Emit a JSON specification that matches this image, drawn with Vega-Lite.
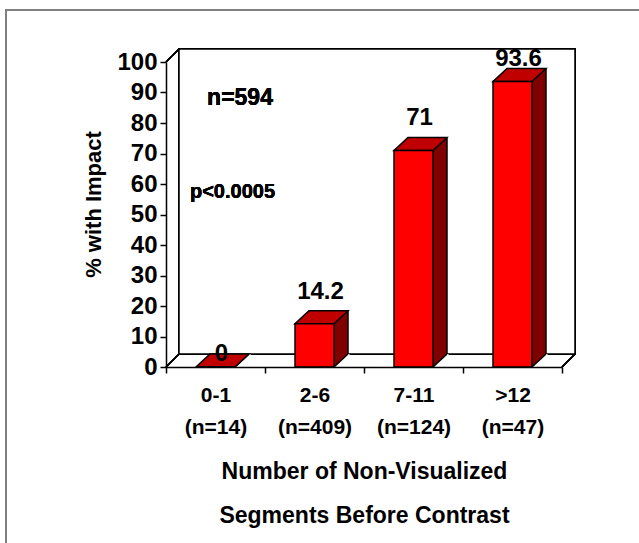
{
  "$schema": "https://vega.github.io/schema/vega-lite/v6.json",
  "width": 396,
  "height": 305,
  "autosize": {"type": "none"},
  "padding": {"left": 166, "top": 62, "right": 77, "bottom": 176},
  "background": "white",
  "config": {
    "view": {"stroke": null},
    "font": "Liberation Sans",
    "text": {"font": "Liberation Sans", "fontWeight": "bold", "color": "#000"}
  },
  "data": {
    "values": [
      {"group": "0-1 (n=14)", "pct": 0},
      {"group": "2-6 (n=409)", "pct": 14.2},
      {"group": "7-11 (n=124)", "pct": 71},
      {"group": ">12 (n=47)", "pct": 93.6}
    ]
  },
  "encoding": {
    "x": {
      "field": "group",
      "type": "nominal",
      "sort": null,
      "scale": {"paddingInner": 0, "paddingOuter": 0},
      "axis": {
        "zindex": 1,
        "tickBand": "extent",
        "labelAngle": 0,
        "labelExpr": "split(datum.label, ' ')",
        "labelLineHeight": 32,
        "labelFontSize": 21,
        "labelFontWeight": "bold",
        "labelColor": "#000",
        "labelPadding": 11,
        "labelOverlap": false,
        "tickSize": 6,
        "tickColor": "#000",
        "tickWidth": 1.5,
        "domainColor": "#000",
        "domainWidth": 1.5,
        "title": ["Number of Non-Visualized", "Segments Before Contrast"],
        "titleFontSize": 23,
        "titleFontWeight": "bold",
        "titleColor": "#000",
        "titleLineHeight": 44,
        "titlePadding": 23
      }
    },
    "y": {
      "field": "pct",
      "type": "quantitative",
      "scale": {"domain": [0, 100], "nice": false},
      "axis": {
        "zindex": 1,
        "tickCount": 10,
        "grid": false,
        "labelFontSize": 24,
        "labelFontWeight": "bold",
        "labelColor": "#000",
        "labelPadding": 3,
        "tickSize": 6,
        "tickColor": "#000",
        "tickWidth": 1.5,
        "domainColor": "#000",
        "domainWidth": 1.5,
        "title": "% with Impact",
        "titleFontSize": 22,
        "titleFontWeight": "bold",
        "titleColor": "#000",
        "titlePadding": 11,
        "titleY": 142
      }
    }
  },
  "layer": [
    {
      "mark": {"type": "rect", "fill": null, "stroke": "#808080", "strokeWidth": 1.5},
      "encoding": {
        "x": {"value": -160},
        "x2": {"value": 520},
        "y": {"value": -52},
        "y2": {"value": 560}
      }
    },
    {
      "mark": {"type": "rect", "fill": "white", "stroke": "#000", "strokeWidth": 1.5, "xOffset": 13, "x2Offset": 13, "yOffset": -13, "y2Offset": -13},
      "encoding": {
        "x": {"value": 0},
        "x2": {"value": 396},
        "y": {"datum": 100},
        "y2": {"datum": 0}
      }
    },
    {
      "mark": {"type": "rule", "stroke": "#000", "strokeWidth": 1.5, "x2Offset": 13, "y2Offset": -13},
      "encoding": {
        "x": {"value": 0},
        "x2": {"value": 0},
        "y": {"datum": 100},
        "y2": {"datum": 100}
      }
    },
    {
      "mark": {"type": "rule", "stroke": "#000", "strokeWidth": 1.5, "x2Offset": 13, "y2Offset": -13},
      "encoding": {
        "x": {"value": 0},
        "x2": {"value": 0},
        "y": {"datum": 0},
        "y2": {"datum": 0}
      }
    },
    {
      "mark": {"type": "rule", "stroke": "#000", "strokeWidth": 1.5, "x2Offset": 13, "y2Offset": -13},
      "encoding": {
        "x": {"value": 396},
        "x2": {"value": 396},
        "y": {"datum": 0},
        "y2": {"datum": 0}
      }
    },
    {
      "mark": {"type": "bar", "width": 14, "xOffset": 26.5, "yOffset": -13, "fill": "#800000", "stroke": null},
      "encoding": {
        "y2": {"datum": 0}
      }
    },
    {
      "mark": {"type": "point", "shape": "M 0.975 0 L 1.675 -0.65 L 1.75 -0.65 L 1.75 0.05 L 0.975 0.05 Z", "size": 1600, "filled": true, "fill": "white", "stroke": null, "opacity": 1},
      "encoding": {
        "y": {"datum": 0}
      }
    },
    {
      "mark": {"type": "point", "shape": "M 0.975 0 L 1.675 -0.65", "size": 1600, "filled": false, "fill": null, "stroke": "#000", "strokeWidth": 1.5, "opacity": 1},
      "encoding": {
        "y": {"datum": 0}
      }
    },
    {
      "mark": {"type": "rule", "stroke": "#000", "strokeWidth": 1.5, "xOffset": 33.5, "yOffset": -13, "y2Offset": -13},
      "encoding": {
        "y2": {"datum": 0}
      }
    },
    {
      "mark": {"type": "point", "shape": "M -0.975 0 L 0.975 0 L 1.675 -0.65 L -0.275 -0.65 Z", "size": 1600, "filled": true, "fill": "#C00000", "stroke": "#000", "strokeWidth": 1.5, "opacity": 1}
    },
    {
      "mark": {"type": "bar", "width": 39, "fill": "#FF0000", "stroke": "#000", "strokeWidth": 1.5},
      "encoding": {
        "y2": {"datum": 0}
      }
    },
    {
      "mark": {"type": "text", "fontSize": 24, "fontWeight": "bold", "baseline": "bottom", "align": "center", "dx": 6, "dy": {"expr": "datum.pct == 0 ? -1 : datum.pct > 90 ? -11 : -20"}},
      "encoding": {
        "text": {"field": "pct", "type": "nominal"}
      }
    },
    {
      "mark": {"type": "text", "fontSize": 23, "fontWeight": "bold", "baseline": "middle", "align": "center", "dx": 24.5, "text": "n=594"},
      "encoding": {
        "x": {"datum": "0-1 (n=14)"},
        "y": {"datum": 88.2}
      }
    },
    {
      "mark": {"type": "text", "fontSize": 20, "fontWeight": "bold", "baseline": "middle", "align": "center", "dx": 17, "text": "p<0.0005"},
      "encoding": {
        "x": {"datum": "0-1 (n=14)"},
        "y": {"datum": 57.4}
      }
    }
  ]
}
